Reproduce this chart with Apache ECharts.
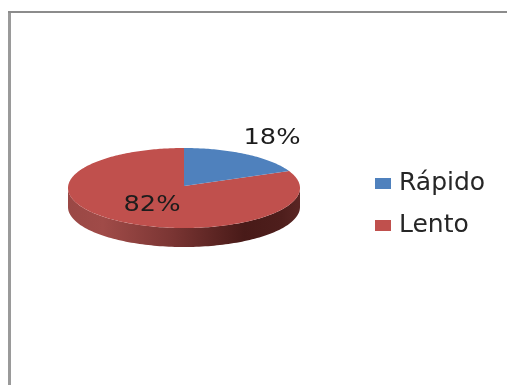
<!DOCTYPE html>
<html>
<head>
<meta charset="utf-8">
<style>
html,body{margin:0;padding:0;background:#fff;overflow:hidden}
#c{width:507px;height:385px;filter:blur(0.5px)}
</style>
<script src="https://cdn.jsdelivr.net/npm/echarts@6/dist/echarts.min.js"></script>
</head>
<body>
<div id="c"></div>
<script>
var categories = ['Rápido', 'Lento'];
var percentValues = [18, 82];
var sliceColors = ['#4F81BD', '#C0504D'];

var PIE = {cx: 184, cy: 188, apexY: 186, rx: 116, ry: 40, depth: 19};
var LABEL_POS = [[272, 139], [152, 206]];

function ellipsePoint(deg, dy) {
  var t = deg * Math.PI / 180;
  return [PIE.cx + PIE.rx * Math.sin(t), PIE.cy + (dy || 0) - PIE.ry * Math.cos(t)];
}
function wedgePoints(a0, a1) {
  var pts = [[PIE.cx, PIE.apexY]];
  var n = Math.max(8, Math.ceil(a1 - a0));
  for (var i = 0; i <= n; i++) pts.push(ellipsePoint(a0 + (a1 - a0) * i / n));
  return pts;
}
function sidePoints(a0, a1) {
  var from = Math.max(a0, 90), to = Math.min(a1, 270), pts = [], i, n = 120;
  if (to <= from) return null;
  for (i = 0; i <= n; i++) pts.push(ellipsePoint(from + (to - from) * i / n));
  for (i = n; i >= 0; i--) pts.push(ellipsePoint(from + (to - from) * i / n, PIE.depth));
  return pts;
}
function makeRender(index) {
  return function () {
    var total = percentValues.reduce(function (a, b) { return a + b; }, 0);
    var before = percentValues.slice(0, index).reduce(function (a, b) { return a + b; }, 0);
    var a0 = before / total * 360, a1 = (before + percentValues[index]) / total * 360;
    var children = [];
    var side = sidePoints(a0, a1);
    if (side) {
      children.push({
        type: 'polygon', shape: {points: side}, z2: 1,
        style: {fill: new echarts.graphic.LinearGradient(0, 0, 1, 0, [
          {offset: 0, color: '#9A4845'},
          {offset: 0.15, color: '#A04B48'},
          {offset: 0.45, color: '#7A3533'},
          {offset: 0.76, color: '#481A18'},
          {offset: 0.92, color: '#4E1E1C'},
          {offset: 1, color: '#5A2624'}
        ])}
      });
    }
    children.push({
      type: 'polygon', shape: {points: wedgePoints(a0, a1)}, z2: 2,
      style: {fill: sliceColors[index]}
    });
    children.push({
      type: 'text', z2: 5,
      x: LABEL_POS[index][0], y: LABEL_POS[index][1], scaleX: 1.25,
      style: {
        text: percentValues[index] + '%', align: 'center', verticalAlign: 'middle',
        font: '20.5px "DejaVu Sans"', fill: '#1c1c1c'
      }
    });
    return {type: 'group', children: children};
  };
}

var chart = echarts.init(document.getElementById('c'), null, {renderer: 'canvas'});
chart.setOption({
  animation: false,
  backgroundColor: '#fff',
  legend: {
    data: categories,
    orient: 'vertical',
    left: 370, top: 166,
    icon: 'rect',
    itemWidth: 16, itemHeight: 11, itemGap: 17,
    selectedMode: false,
    textStyle: {fontFamily: 'DejaVu Sans', fontSize: 25, color: '#262626', padding: [0, 0, 0, 3]}
  },
  graphic: [
    {type: 'line', shape: {x1: 9.5, y1: 12, x2: 9.5, y2: 385}, style: {stroke: '#9a9a9a', lineWidth: 3}},
    {type: 'line', shape: {x1: 8, y1: 12, x2: 507, y2: 12}, style: {stroke: '#8c8c8c', lineWidth: 2}}
  ],
  series: categories.map(function (name, i) {
    return {
      name: name, type: 'custom', coordinateSystem: 'none',
      itemStyle: {color: sliceColors[i]},
      data: [percentValues[i]],
      renderItem: makeRender(i),
      silent: true, z: i === 0 ? 3 : 2
    };
  })
});
</script>
</body>
</html>
